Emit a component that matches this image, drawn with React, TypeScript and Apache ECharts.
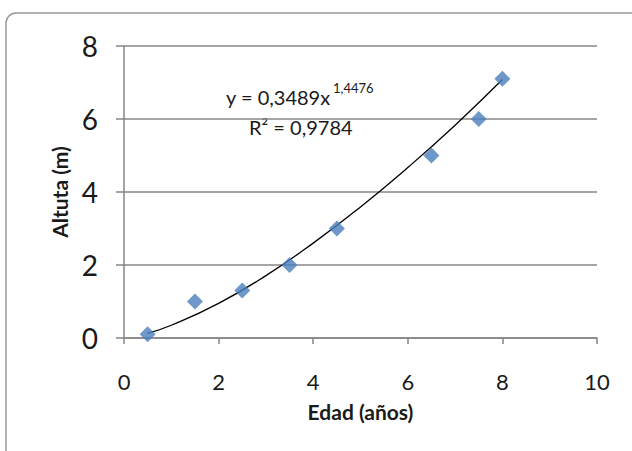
import React, { useEffect, useRef } from "react";
import * as echarts from "echarts";

const edades = [0.5, 1.5, 2.5, 3.5, 4.5, 6.5, 7.5, 8];
const alturas = [0.1, 1.0, 1.3, 2.0, 3.0, 5.0, 6.0, 7.1];
// trendline (power fit curve)
const curveX = [0.5, 1, 2, 3, 4, 5, 6, 7, 8];
const curveY = [0.13, 0.35, 0.95, 1.71, 2.6, 3.59, 4.67, 5.83, 7.08];
const xTicks = [0, 2, 4, 6, 8, 10];
const yTicks = [0, 2, 4, 6, 8];

const FONT = "Lato, 'Open Sans', sans-serif";

export default function App() {
  const ref = useRef<HTMLDivElement>(null);
  useEffect(() => {
    if (!ref.current) return;
    const chart = echarts.init(ref.current, null, { renderer: "svg" });
    chart.setOption({
      animation: false,
      backgroundColor: "#ffffff",
      textStyle: { fontFamily: FONT },
      grid: { left: 124, right: 35, top: 46, bottom: 113 },
      xAxis: {
        type: "value",
        min: xTicks[0],
        max: xTicks[xTicks.length - 1],
        interval: 2,
        name: "Edad (años)",
        nameLocation: "middle",
        nameGap: 63,
        nameTextStyle: { fontFamily: FONT, fontSize: 21, fontWeight: "bold", color: "#1a1a1a" },
        axisLine: { show: true, lineStyle: { color: "#868686", width: 1.5 } },
        axisTick: { show: true, length: 6, lineStyle: { color: "#868686", width: 1.5 } },
        axisLabel: { fontFamily: FONT, fontSize: 22, color: "#1a1a1a", margin: 32 },
        splitLine: { show: false },
      },
      yAxis: {
        type: "value",
        min: yTicks[0],
        max: yTicks[yTicks.length - 1],
        interval: 2,
        name: "Altuta (m)",
        nameLocation: "middle",
        nameGap: 54,
        nameTextStyle: { fontFamily: FONT, fontSize: 21, fontWeight: "bold", color: "#1a1a1a" },
        axisLine: { show: true, lineStyle: { color: "#868686", width: 1.5 } },
        axisTick: { show: true, length: 8, lineStyle: { color: "#868686", width: 1.5 } },
        axisLabel: { fontFamily: FONT, fontSize: 28, color: "#1a1a1a", margin: 26 },
        splitLine: { show: true, lineStyle: { color: "#878787", width: 1.5 } },
      },
      series: [
        {
          type: "line",
          data: curveX.map((x, i) => [x, curveY[i]]),
          smooth: true,
          showSymbol: false,
          lineStyle: { color: "#000000", width: 1.3 },
          z: 2,
        },
        {
          type: "scatter",
          data: edades.map((x, i) => [x, alturas[i]]),
          symbol: "diamond",
          symbolSize: 16,
          itemStyle: { color: "#4a7ebb" },
          z: 3,
        },
      ],
      graphic: [
        {
          type: "rect",
          shape: { x: 6, y: 13, width: 700, height: 600, r: 10 },
          style: { fill: "none", stroke: "#9a9a9a", lineWidth: 1.5 },
          silent: true,
          z: -1,
        },
        {
          type: "text",
          x: 226,
          y: 87,
          style: { text: "y = 0,3489x", font: `20px ${FONT}`, fill: "#1a1a1a" },
        },
        {
          type: "text",
          x: 333,
          y: 81,
          style: { text: "1,4476", font: `13px ${FONT}`, fill: "#1a1a1a" },
        },
        {
          type: "text",
          x: 249,
          y: 117,
          style: { text: "R² = 0,9784", font: `20px ${FONT}`, fill: "#1a1a1a" },
        },
      ],
    });
    return () => chart.dispose();
  }, []);
  return (
    <div
      ref={ref}
      style={{ position: "fixed", left: 0, top: 0, width: 632, height: 451 }}
    />
  );
}
